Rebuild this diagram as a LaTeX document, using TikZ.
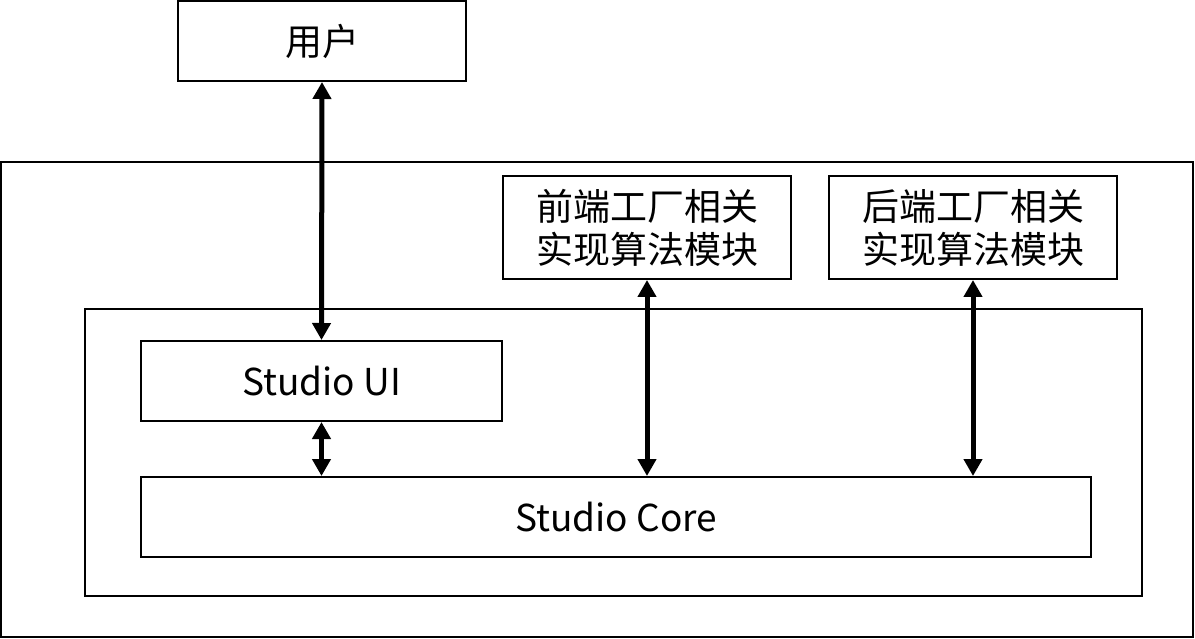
\documentclass[tikz,border=0pt]{standalone}
\usepackage{fontspec}
\setmainfont{Noto Sans CJK SC}
\usetikzlibrary{arrows.meta}
\begin{document}
\begin{tikzpicture}[x=1pt,y=-1pt,
  box/.style={draw,line width=2pt,inner sep=0pt,font=\fontsize{37}{43}\selectfont,align=center},
  conn/.style={line width=5pt,{Triangle[width=18pt,length=17pt]}-{Triangle[width=18pt,length=17pt]}}]
\useasboundingbox (0,0) rectangle (1195,639);
\draw[line width=2pt] (1,162) rectangle (1193,637);
\draw[line width=2pt] (85,309) rectangle (1142,596);
\node[box,minimum width=288pt,minimum height=80pt] (user) at (322,41) {用户};
\node[box,minimum width=288pt,minimum height=103pt] (fe) at (647,227.5) {前端工厂相关\\实现算法模块};
\node[box,minimum width=288pt,minimum height=103pt] (be) at (973,227.5) {后端工厂相关\\实现算法模块};
\node[box,minimum width=361pt,minimum height=80pt] (ui) at (321.5,381) {Studio UI};
\node[box,minimum width=950pt,minimum height=80pt] (core) at (616,517) {Studio Core};
\draw[conn] (user.south) -- (ui.north);
\draw[conn] (ui.south) -- (ui.south |- core.north);
\draw[conn] (fe.south) -- (fe.south |- core.north);
\draw[conn] (be.south) -- (be.south |- core.north);
\end{tikzpicture}
\end{document}
